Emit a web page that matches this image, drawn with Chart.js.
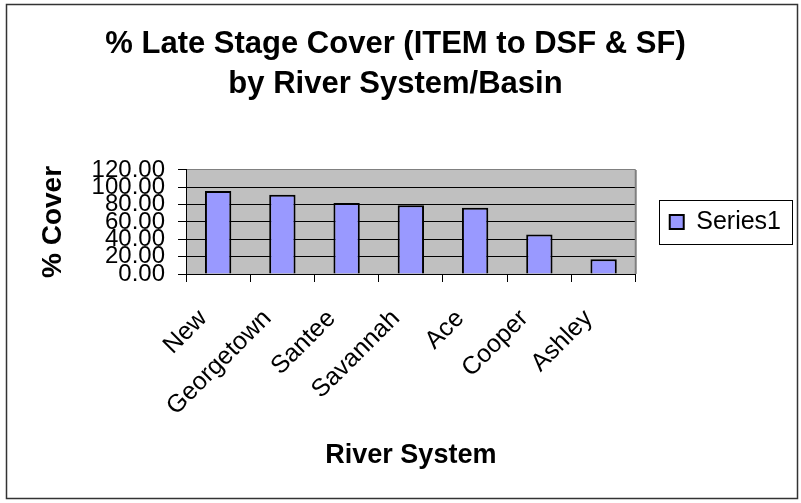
<!DOCTYPE html>
<html>
<head>
<meta charset="utf-8">
<script src="https://cdn.jsdelivr.net/npm/chart.js@4.4.1/dist/chart.umd.min.js"></script>
<style>
  html, body { margin: 0; padding: 0; background: #fff; }
  #wrap { width: 801px; height: 503px; }
</style>
</head>
<body>
<div id="wrap"><canvas id="cover-chart" width="801" height="503"></canvas></div>
<script>
const rivers = ['New', 'Georgetown', 'Santee', 'Savannah', 'Ace', 'Cooper', 'Ashley'];
const coverPct = [95.8, 91.3, 81.8, 79.2, 76.5, 45.5, 17.0];
const titleLines = ['% Late Stage Cover (ITEM to DSF & SF)', 'by River System/Basin'];
const seriesName = 'Series1';
const yMin = 0, yMax = 120, yStep = 20;

Chart.defaults.font.family = '"Liberation Sans", Arial, sans-serif';
Chart.defaults.color = '#000';

// grey plot area, legend frame and outer border, Excel style
const excelFrame = {
  id: 'excelFrame',
  beforeDraw(chart) {
    const { ctx, chartArea: a } = chart;
    ctx.save();
    ctx.fillStyle = '#fff';
    ctx.fillRect(0, 0, chart.width, chart.height);
    ctx.fillStyle = '#c0c0c0';
    ctx.fillRect(a.left, a.top, a.right - a.left, a.bottom - a.top);
    ctx.restore();
  },
  afterDraw(chart) {
    const { ctx, chartArea: a } = chart;
    ctx.save();
    ctx.strokeStyle = '#808080';
    ctx.lineWidth = 2;
    ctx.beginPath();
    ctx.moveTo(a.right, a.top);
    ctx.lineTo(a.right, a.bottom);
    ctx.stroke();

    const hb = chart.legend.legendHitBoxes[0];
    if (hb) {
      const cy = hb.top + hb.height / 2;
      ctx.strokeStyle = '#000';
      ctx.lineWidth = 1;
      ctx.strokeRect(Math.round(hb.left - 11) + 0.5, Math.round(cy - 22) + 0.5, Math.round(hb.width + 22), 44);
    }

    ctx.strokeStyle = '#333';
    ctx.lineWidth = 1.5;
    ctx.strokeRect(6.5, 4.5, 791, 494);
    ctx.restore();
  }
};

new Chart(document.getElementById('cover-chart'), {
  type: 'bar',
  data: {
    labels: rivers,
    datasets: [{
      label: seriesName,
      data: coverPct,
      backgroundColor: '#9999ff',
      borderColor: '#000',
      borderWidth: 2,
      barPercentage: 0.41,
      categoryPercentage: 1
    }]
  },
  options: {
    responsive: false,
    animation: false,
    layout: { padding: { left: 0, top: 0, right: 10, bottom: 31 } },
    plugins: {
      title: {
        display: true,
        text: titleLines,
        color: '#000',
        font: { size: 31, weight: 'bold', lineHeight: 1.29 },
        padding: { top: 24, bottom: 66 }
      },
      legend: {
        position: 'right',
        fullSize: false,
        labels: { boxWidth: 14, boxHeight: 14, padding: 34, color: '#000', font: { size: 25 } }
      },
      tooltip: { enabled: false }
    },
    scales: {
      x: {
        grid: { offset: true, drawOnChartArea: false, drawTicks: true, tickLength: 8, color: '#000' },
        border: { color: '#000', width: 1 },
        ticks: {
          autoSkip: false,
          minRotation: 45,
          maxRotation: 45,
          padding: 22,
          labelOffset: -15,
          color: '#000',
          font: { size: 25 }
        },
        title: {
          display: true,
          text: 'River System',
          color: '#000',
          font: { size: 27, weight: 'bold' },
          padding: { top: 0, bottom: 0 }
        },
        afterFit(s) { s.height = 198; }
      },
      y: {
        min: yMin,
        max: yMax,
        grid: {
          color: (c) => (c.tick && c.tick.value === yMax ? '#808080' : '#000'),
          tickColor: '#000',
          tickLength: 8,
          lineWidth: 1
        },
        border: { color: '#000', width: 1 },
        ticks: {
          stepSize: yStep,
          autoSkip: false,
          padding: 13,
          color: '#000',
          font: { size: 24 },
          callback: (v) => v.toFixed(2)
        },
        title: {
          display: true,
          text: '% Cover',
          color: '#000',
          font: { size: 28, weight: 'bold' },
          padding: { top: 36, bottom: 0 }
        },
        afterFit(s) { s.width = 186; }
      }
    }
  },
  plugins: [excelFrame]
});
</script>
</body>
</html>
